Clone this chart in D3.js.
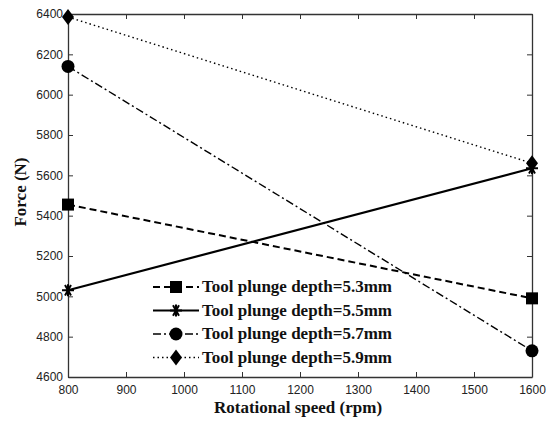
<!DOCTYPE html>
<html>
<head>
<meta charset="utf-8">
<script src="https://cdn.jsdelivr.net/npm/d3@7"></script>
<style>
  body { margin: 0; background: #fff; }
  .tick text { font-family: "Liberation Sans", Arial, sans-serif; font-size: 12px; fill: #222; }
  .lbl { font-family: "Liberation Serif", "Times New Roman", serif; font-weight: bold; font-size: 17px; fill: #111; }
</style>
</head>
<body>
<div id="chart"></div>
<script>
"use strict";

var speeds = [800, 1600];
var depthNames = ["Tool plunge depth=5.3mm", "Tool plunge depth=5.5mm",
                  "Tool plunge depth=5.7mm", "Tool plunge depth=5.9mm"];
var force53 = [5455, 4990];
var force55 = [5030, 5635];
var force57 = [6140, 4730];
var force59 = [6385, 5660];
var xTicks = [800, 900, 1000, 1100, 1200, 1300, 1400, 1500, 1600];
var yTicks = [4600, 4800, 5000, 5200, 5400, 5600, 5800, 6000, 6200, 6400];

var series = [
    { name: depthNames[0], vals: force53, dash: "7,4", width: 2,   marker: "square" },
    { name: depthNames[1], vals: force55, dash: null,  width: 2.2, marker: "star" },
    { name: depthNames[2], vals: force57, dash: "8,3,2,3", width: 1.4, marker: "circle" },
    { name: depthNames[3], vals: force59, dash: "1.5,3", width: 1.4, marker: "diamond" }
];

var W = 548, H = 421;
var m = { left: 68, right: 16, top: 14, bottom: 44 };

var svg = d3.select("#chart").append("svg").attr("width", W).attr("height", H);

var x = d3.scaleLinear().domain([800, 1600]).range([m.left, W - m.right]);
var y = d3.scaleLinear().domain([4600, 6400]).range([H - m.bottom, m.top]);
var fmt = d3.format("d");

// axes on all four sides, ticks inward
svg.append("g").attr("transform", "translate(0," + (H - m.bottom) + ")")
    .call(d3.axisBottom(x).tickValues(xTicks).tickFormat(fmt).tickSizeInner(-5).tickSizeOuter(0).tickPadding(8));
svg.append("g").attr("transform", "translate(0," + m.top + ")")
    .call(d3.axisTop(x).tickValues(xTicks).tickSizeInner(-5).tickSizeOuter(0).tickFormat(""));
svg.append("g").attr("transform", "translate(" + m.left + ",0)")
    .call(d3.axisLeft(y).tickValues(yTicks).tickFormat(fmt).tickSizeInner(-5).tickSizeOuter(0).tickPadding(5));
svg.append("g").attr("transform", "translate(" + (W - m.right) + ",0)")
    .call(d3.axisRight(y).tickValues(yTicks).tickSizeInner(-5).tickSizeOuter(0).tickFormat(""));
svg.selectAll(".domain").attr("stroke", "#333").attr("stroke-width", 1.3);
svg.selectAll(".tick line").attr("stroke", "#333");

function drawMarker(g, type, cx, cy) {
    if (type === "square") {
        g.append("rect").attr("x", cx - 6).attr("y", cy - 6).attr("width", 12).attr("height", 12).attr("fill", "#000");
    } else if (type === "circle") {
        g.append("circle").attr("cx", cx).attr("cy", cy).attr("r", 6.5).attr("fill", "#000");
    } else if (type === "diamond") {
        g.append("path").attr("d", "M" + cx + "," + (cy - 8) + "L" + (cx + 6) + "," + cy + "L" + cx + "," + (cy + 8) + "L" + (cx - 6) + "," + cy + "Z")
            .attr("fill", "#000");
    } else {
        var r = 6, d = "";
        [0, 60, 120].forEach(function (a) {
            var t = a * Math.PI / 180;
            d += "M" + (cx - r * Math.cos(t)) + "," + (cy - r * Math.sin(t)) + "L" + (cx + r * Math.cos(t)) + "," + (cy + r * Math.sin(t));
        });
        d += "M" + cx + "," + (cy - r) + "L" + cx + "," + (cy + r);
        g.append("path").attr("d", d).attr("stroke", "#000").attr("stroke-width", 2);
    }
}

var line = d3.line().x(function (d) { return x(d[0]); }).y(function (d) { return y(d[1]); });

series.forEach(function (s) {
    var pts = speeds.map(function (v, i) { return [v, s.vals[i]]; });
    var g = svg.append("g");
    g.append("path").attr("d", line(pts)).attr("fill", "none").attr("stroke", "#000")
        .attr("stroke-width", s.width).attr("stroke-dasharray", s.dash);
    pts.forEach(function (p) { drawMarker(g, s.marker, x(p[0]), y(p[1])); });
});

// legend
var lg = svg.append("g");
series.forEach(function (s, i) {
    var ly = 287 + i * 23.5;
    lg.append("line").attr("x1", 153).attr("x2", 199).attr("y1", ly).attr("y2", ly)
        .attr("stroke", "#000").attr("stroke-width", s.width).attr("stroke-dasharray", s.dash);
    drawMarker(lg, s.marker, 176, ly);
    lg.append("text").attr("class", "lbl").attr("x", 202).attr("y", ly + 5).text(s.name);
});

svg.append("text").attr("class", "lbl").attr("x", 298).attr("y", 413)
    .attr("text-anchor", "middle").text("Rotational speed (rpm)");
svg.append("text").attr("class", "lbl")
    .attr("transform", "translate(26,192) rotate(-90)")
    .attr("text-anchor", "middle").text("Force (N)");
</script>
</body>
</html>
